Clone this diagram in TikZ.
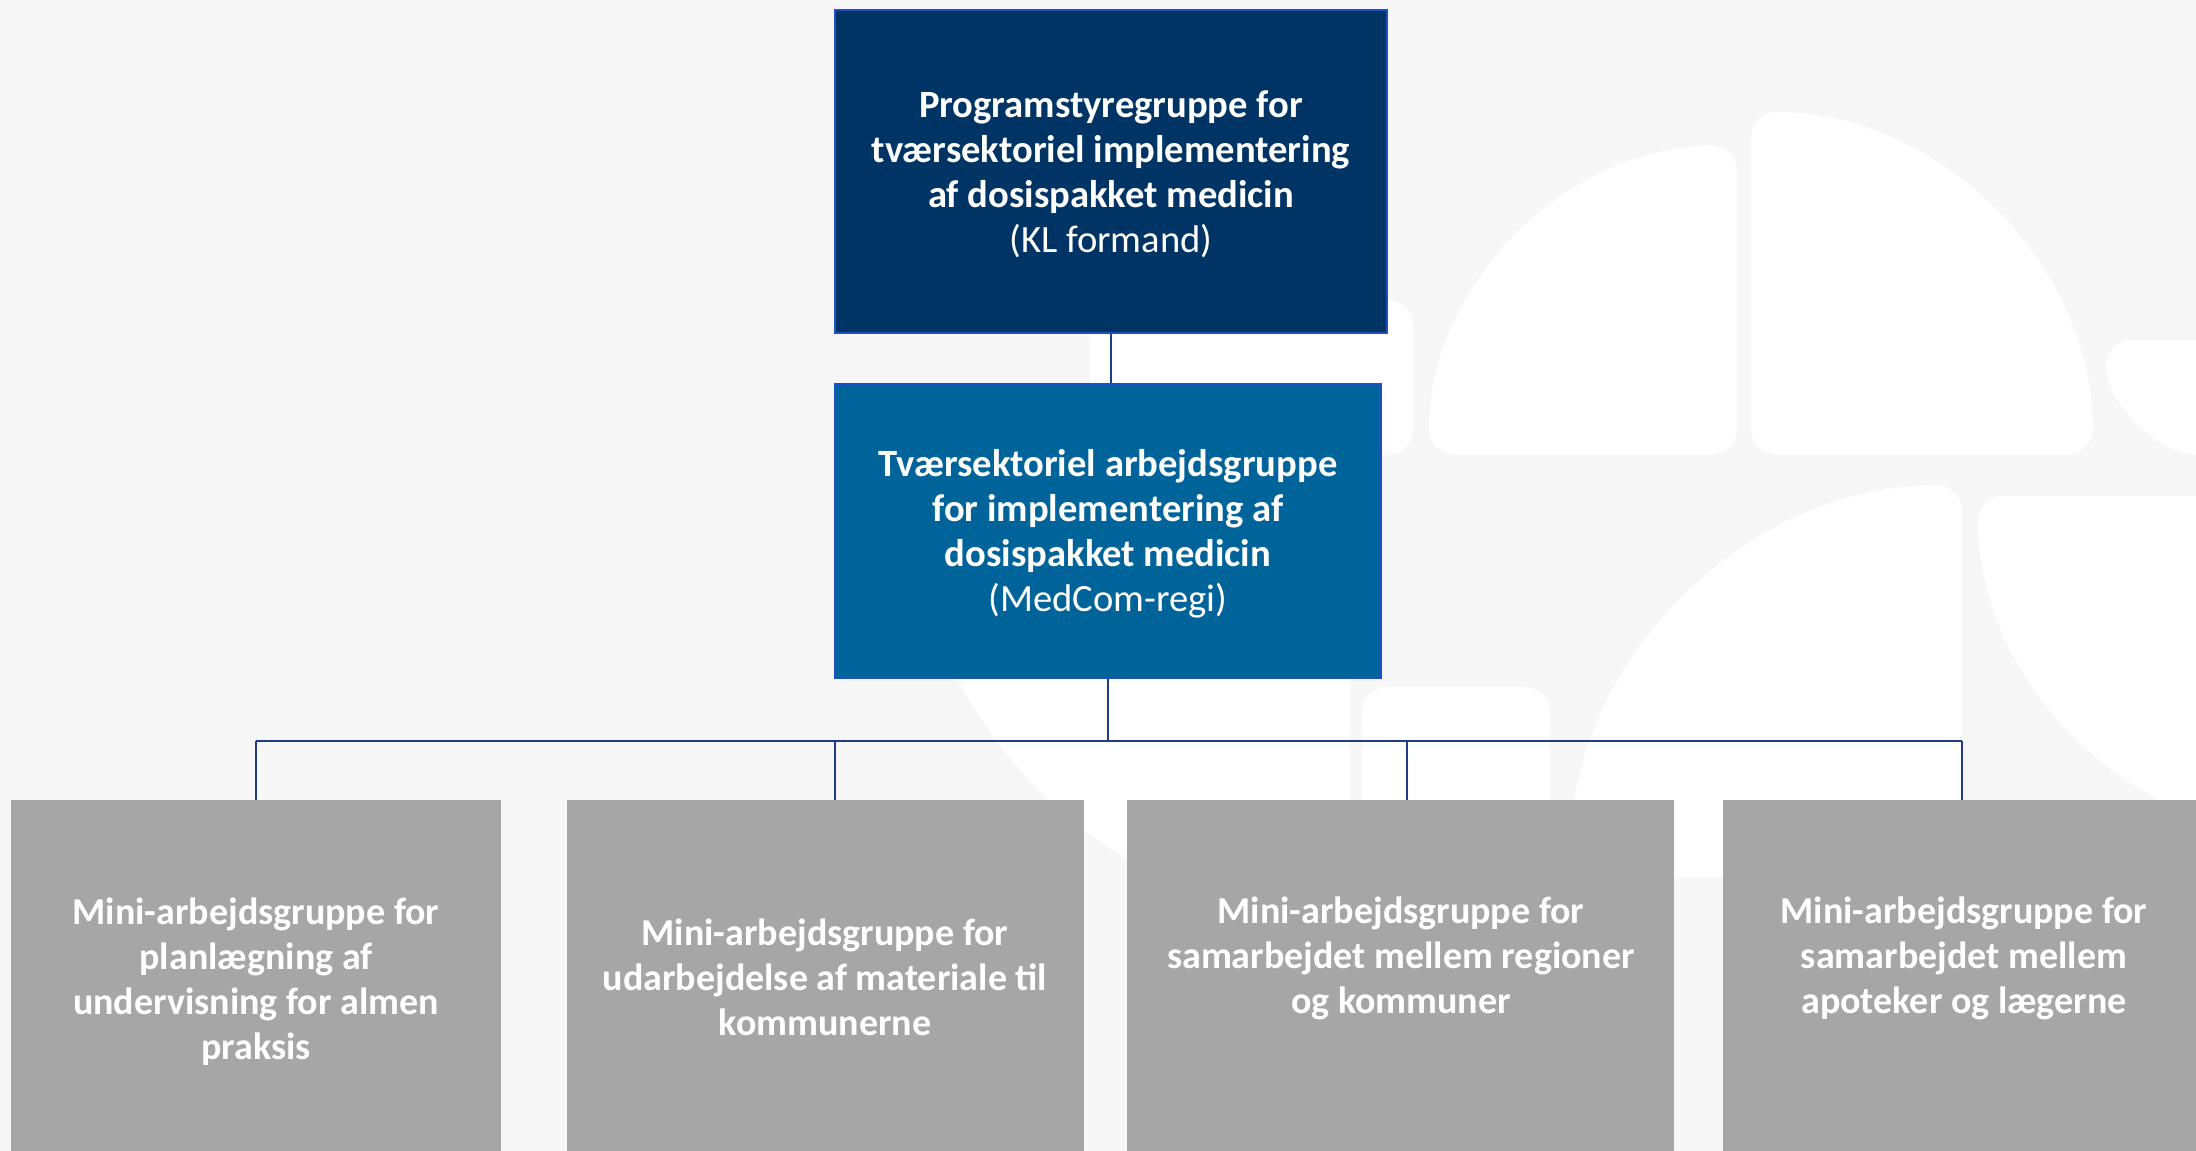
\documentclass[tikz,border=0pt]{standalone}
\usepackage{fontspec}
\setmainfont{Carlito}
\definecolor{bgc}{HTML}{F7F7F7}
\definecolor{navy}{HTML}{003464}
\definecolor{midblue}{HTML}{00649A}
\definecolor{edgeblue}{HTML}{1F4FC8}
\definecolor{boxgray}{HTML}{A6A6A6}
\definecolor{linec}{HTML}{1F3C88}
\tikzset{
  topbox/.style={draw=edgeblue, line width=2.5pt, fill=navy, inner sep=0pt},
  midbox/.style={draw=edgeblue, line width=2.5pt, fill=midblue, inner sep=0pt},
  boxtext/.style={text=white, align=center, inner sep=0pt, font=\fontsize{38.6}{45}\selectfont\bfseries},
  graybox/.style={fill=boxgray, draw=none, inner sep=0pt, minimum height=360pt},
  graytext/.style={text=white, align=center, inner sep=0pt, font=\fontsize{38}{45}\selectfont\bfseries},
  conn/.style={draw=linec, line width=2pt},
  deco/.style={fill=white, rounded corners=25pt}
}
\begin{document}
\begin{tikzpicture}[x=1pt,y=1pt]
\useasboundingbox (0,0) rectangle (2196,-1151);
\fill[bgc] (0,0) rectangle (2196,-1151);
\begin{scope}
\clip (0,0) rectangle (2196,-1151);
\fill[deco] (1090,-300) rectangle (1413,-455);
\fill[deco] (1737,-454) -- (1429,-454) arc[start angle=180,end angle=90,radius=308] -- cycle;
\fill[deco] (1751,-454) -- (1751,-112) arc[start angle=90,end angle=0,radius=342] -- cycle;
\fill[deco] (2240,-340) -- (2106,-340) arc[start angle=180,end angle=270,radius=114] -- (2240,-454) -- cycle;
\fill[deco] (1962,-877) -- (1570,-877) arc[start angle=180,end angle=90,radius=392] -- cycle;
\fill[deco] (2314,-496) -- (1978,-496) arc[start angle=180,end angle=270,radius=336] -- cycle;
\fill[deco] (1362,-687) rectangle (1550,-1200);
\fill[deco] (1350,-480) -- (915,-480) arc[start angle=180,end angle=270,radius=435] -- cycle;
\end{scope}

\node[topbox, minimum width=552pt, minimum height=323pt] (top) at (1111,-171.5) {};
\node[boxtext] (toptext) at (1111,-174.5)
  {Programstyregruppe for\\tværsektoriel implementering\\af dosispakket medicin\\{\mdseries (KL formand)}};
\node[midbox, minimum width=546pt, minimum height=294pt] (mid) at (1108,-531) {};
\node[boxtext] (midtext) at (1108,-534)
  {Tværsektoriel arbejdsgruppe\\for implementering af\\dosispakket medicin\\{\mdseries (MedCom-regi)}};

\node[graybox, minimum width=490pt] (b1) at (256,-980) {};
\node[graybox, minimum width=517pt] (b2) at (825.5,-980) {};
\node[graybox, minimum width=547pt] (b3) at (1400.5,-980) {};
\node[graybox, minimum width=477pt] (b4) at (1961.5,-980) {};

\node[graytext] (t1) at (256,-982) {Mini-arbejdsgruppe for\\planlægning af\\undervisning for almen\\praksis};
\node[graytext] (t2) at (825,-977) {Mini-arbejdsgruppe for\\udarbejdelse af materiale til\\kommunerne};
\node[graytext] (t3) at (1401,-958.5) {Mini-arbejdsgruppe for\\samarbejdet mellem regioner\\og kommuner};
\node[graytext] (t4) at (1964,-958.5) {Mini-arbejdsgruppe for\\samarbejdet mellem\\apoteker og lægerne};

\coordinate (busL) at (256,-741);
\coordinate (busR) at (1962,-741);
\coordinate (d2) at (835,-741);
\coordinate (d3) at (1407,-741);
\draw[conn] (top.south) -- (top.south |- mid.north);
\draw[conn] (mid.south) -- (mid.south |- busL);
\draw[conn] (busL) -- (busR);
\draw[conn] (busL) -- (b1.north);
\draw[conn] (d2) -- (d2 |- b2.north);
\draw[conn] (d3) -- (d3 |- b3.north);
\draw[conn] (busR) -- (busR |- b4.north);
\end{tikzpicture}
\end{document}
